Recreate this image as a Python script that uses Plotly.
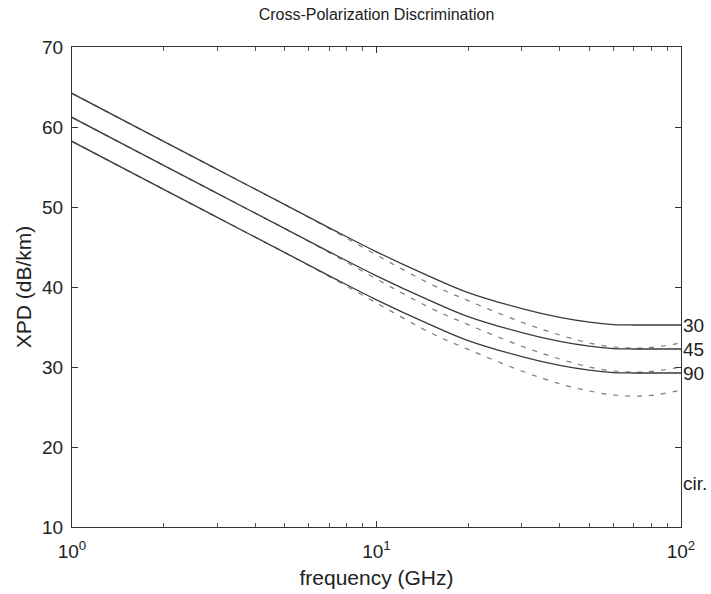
import plotly.graph_objects as go

# ---- data ----
freq_ghz = [1, 2, 3, 5, 7, 10, 15, 20, 30, 40, 50, 60, 70, 80, 100]

xpd_30_solid = [64.2, 58.2, 54.7, 50.3, 47.4, 44.4, 41.3, 39.3, 37.3, 36.2, 35.6, 35.3, 35.25, 35.25, 35.25]
xpd_45_solid = [61.2, 55.2, 51.7, 47.3, 44.4, 41.4, 38.3, 36.3, 34.3, 33.2, 32.6, 32.3, 32.25, 32.25, 32.25]
xpd_90_solid = [58.2, 52.2, 48.7, 44.3, 41.4, 38.4, 35.3, 33.3, 31.3, 30.2, 29.6, 29.3, 29.25, 29.25, 29.25]

xpd_30_dashed = [64.2, 58.2, 54.7, 50.3, 47.3, 44.0, 40.4, 38.3, 35.6, 34.0, 33.0, 32.5, 32.35, 32.45, 33.0]
xpd_45_dashed = [61.2, 55.2, 51.7, 47.3, 44.3, 41.0, 37.4, 35.3, 32.6, 31.0, 30.0, 29.5, 29.35, 29.45, 30.0]
xpd_90_dashed = [58.2, 52.2, 48.7, 44.3, 41.3, 38.0, 34.3, 32.2, 29.5, 27.9, 27.0, 26.5, 26.35, 26.45, 27.1]

end_labels = ["30", "45", "90", "cir."]
end_label_values = [35.25, 32.25, 29.25, 15.5]

x_tick_vals = [1, 10, 100]
x_tick_text = ["10<sup>0</sup>", "10<sup>1</sup>", "10<sup>2</sup>"]
x_minor_vals = [2, 3, 4, 5, 6, 7, 8, 9, 20, 30, 40, 50, 60, 70, 80, 90]
y_tick_vals = [10, 20, 30, 40, 50, 60, 70]

FONT = "Liberation Sans, Arial, Helvetica, sans-serif"
SOLID_COLOR = "#3a3a3a"
DASH_COLOR = "#7a7a7a"

fig = go.Figure()

for ys in (xpd_30_dashed, xpd_45_dashed, xpd_90_dashed):
    fig.add_trace(go.Scatter(
        x=freq_ghz, y=ys, mode="lines", showlegend=False,
        line=dict(color=DASH_COLOR, width=1.2, dash="5px,7px", shape="spline", smoothing=1.0),
        hoverinfo="skip"))

for ys in (xpd_30_solid, xpd_45_solid, xpd_90_solid):
    fig.add_trace(go.Scatter(
        x=freq_ghz, y=ys, mode="lines", showlegend=False,
        line=dict(color=SOLID_COLOR, width=1.3, shape="spline", smoothing=1.0),
        hoverinfo="skip"))

for txt, val in zip(end_labels, end_label_values):
    fig.add_annotation(x=2, y=val, xref="x", yref="y", text=txt, showarrow=False,
                       xanchor="left", yanchor="middle", xshift=0,
                       font=dict(family=FONT, size=19, color="#222"))

fig.update_layout(
    width=711, height=594,
    margin=dict(l=72, r=30, t=47, b=67),
    paper_bgcolor="white", plot_bgcolor="white",
    font=dict(family=FONT, color="#222"),
    title=dict(text="Cross-Polarization Discrimination", x=0.5, xref="paper",
               y=1 - 14 / 594, yref="container", yanchor="middle", xanchor="center",
               font=dict(family=FONT, size=16, color="#222")),
)

fig.update_xaxes(
    type="log", range=[0, 2], automargin=False,
    tickvals=x_tick_vals, ticktext=x_tick_text,
    ticks="inside", ticklen=6, tickcolor="#333",
    showline=True, linecolor="#333", linewidth=1, mirror="allticks",
    showgrid=False, zeroline=False,
    tickfont=dict(family=FONT, size=19, color="#222"),
    ticklabelstandoff=7,
    minor=dict(tickvals=x_minor_vals, ticks="inside", ticklen=4, tickcolor="#555", showgrid=False),
    title=dict(text="frequency (GHz)", font=dict(family=FONT, size=21, color="#222"), standoff=9),
)

fig.update_yaxes(
    range=[10, 70], tickvals=y_tick_vals, automargin=False,
    ticks="inside", ticklen=6, tickcolor="#333",
    showline=True, linecolor="#333", linewidth=1, mirror="allticks",
    showgrid=False, zeroline=False,
    tickfont=dict(family=FONT, size=19, color="#222"),
    ticklabelstandoff=4,
    title=dict(text="XPD (dB/km)", font=dict(family=FONT, size=21, color="#222"), standoff=4),
)

fig.write_html("out.html", config={"displayModeBar": False},
               post_script="document.body.style.margin='0';document.body.style.padding='0';")
